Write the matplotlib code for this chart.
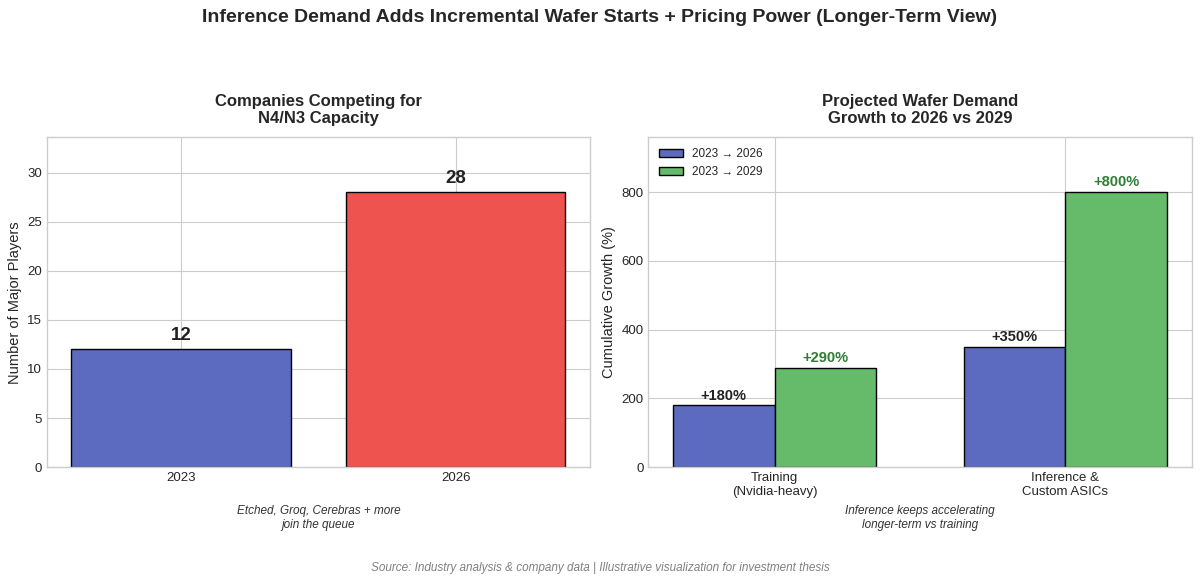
import numpy as np
import matplotlib.pyplot as plt

plt.style.use('seaborn-v0_8-whitegrid')
plt.rcParams['font.family'] = ['Liberation Sans', 'DejaVu Sans']

# data
years = ['2023', '2026']
players = [12, 28]

segments = ['Training\n(Nvidia-heavy)', 'Inference &\nCustom ASICs']
growth_2026 = [180, 350]
growth_2029 = [290, 800]

blue = '#5C6BC0'
red = '#EF5350'
green = '#66BB6A'

fig, (ax1, ax2) = plt.subplots(1, 2, figsize=(12, 5.84), dpi=100)
fig.subplots_adjust(left=0.039, right=0.993, top=0.765, bottom=0.2, wspace=0.107)

fig.suptitle('Inference Demand Adds Incremental Wafer Starts + Pricing Power (Longer-Term View)',
             fontsize=14, fontweight='bold', y=0.985)

# left panel
bars = ax1.bar(years, players, color=[blue, red], edgecolor='black', linewidth=1, width=0.8)
for b, v in zip(bars, players):
    ax1.text(b.get_x() + b.get_width() / 2, v + 0.5, str(v), ha='center', va='bottom',
             fontsize=13.5, fontweight='bold', color='#222222')
ax1.set_ylim(0, max(players) * 1.2)
ax1.set_ylabel('Number of Major Players', fontsize=10.5)
ax1.set_title('Companies Competing for\nN4/N3 Capacity', fontsize=12, fontweight='bold', pad=10)
ax1.tick_params(labelsize=9.5)
ax1.text(0.5, -0.115, 'Etched, Groq, Cerebras + more\njoin the queue', transform=ax1.transAxes,
         ha='center', va='top', fontsize=8.5, style='italic', color='#333333')

# right panel
x = np.arange(len(segments))
w = 0.35
b1 = ax2.bar(x - w / 2, growth_2026, w, color=blue, edgecolor='black', linewidth=1,
             label='2023 → 2026')
b2 = ax2.bar(x + w / 2, growth_2029, w, color=green, edgecolor='black', linewidth=1,
             label='2023 → 2029')
for b, v in zip(b1, growth_2026):
    ax2.text(b.get_x() + b.get_width() / 2, v + 8, f'+{v}%', ha='center', va='bottom',
             fontsize=10.5, fontweight='bold', color='#222222')
for b, v in zip(b2, growth_2029):
    ax2.text(b.get_x() + b.get_width() / 2, v + 8, f'+{v}%', ha='center', va='bottom',
             fontsize=10.5, fontweight='bold', color='#2E7D32')
ax2.set_xticks(x)
ax2.set_xticklabels(segments)
ax2.set_ylim(0, max(growth_2029) * 1.2)
ax2.set_ylabel('Cumulative Growth (%)', fontsize=10.5)
ax2.set_title('Projected Wafer Demand\nGrowth to 2026 vs 2029', fontsize=12, fontweight='bold', pad=10)
ax2.tick_params(labelsize=9.5)
ax2.legend(loc='upper left', fontsize=8.5)
ax2.text(0.5, -0.115, 'Inference keeps accelerating\nlonger-term vs training', transform=ax2.transAxes,
         ha='center', va='top', fontsize=8.5, style='italic', color='#333333')

for ax in (ax1, ax2):
    for s in ax.spines.values():
        s.set_visible(True)
        s.set_color('#cccccc')

fig.text(0.5, 0.027, 'Source: Industry analysis & company data | Illustrative visualization for investment thesis',
         ha='center', va='center', fontsize=8.5, style='italic', color='gray')

fig.savefig('out.png', dpi=100)
